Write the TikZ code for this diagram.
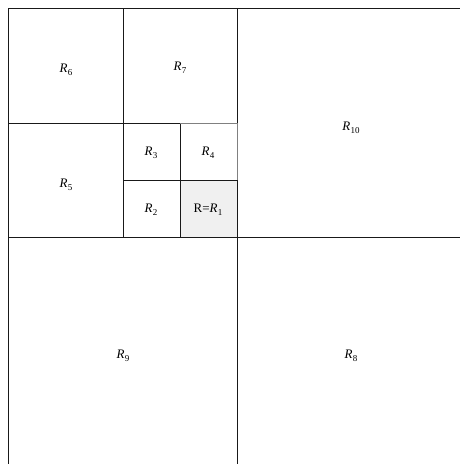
\documentclass[tikz,border=0pt]{standalone}
\usepackage{fontspec}
\setmainfont{Liberation Serif}
\definecolor{cellfill}{HTML}{F0F0F0}
\definecolor{softline}{HTML}{808080}
\newcommand{\Rlab}[1]{\textit{R}\kern0.3pt\raisebox{-0.25em}{\fontsize{9}{10}\selectfont #1}}
\begin{document}
\begin{tikzpicture}[x=1pt,y=-1pt,
  grid/.style={line width=0.9pt,black!90},
  soft/.style={line width=0.9pt,softline},
  lab/.style={font=\fontsize{13}{15}\selectfont,inner sep=0pt}]
\useasboundingbox (0,0) rectangle (460,464);
\fill[cellfill] (180,180) rectangle (237,237);
% main lines
\draw[grid] (8,8) -- (460,8);
\draw[grid] (8,8) -- (8,464);
\draw[grid] (8,237) -- (460,237);
\draw[grid] (237,8) -- (237,123);
\draw[grid] (237,180) -- (237,464);
\draw[grid] (8,123) -- (180,123);
\draw[grid] (123,8) -- (123,237);
\draw[grid] (123,180) -- (237,180);
\draw[grid] (180,123) -- (180,237);
\draw[soft] (180,123) -- (237,123) -- (237,180);
% labels
\node[lab] (r6) at (66,70) {\Rlab{6}};
\node[lab] (r7) at (180,68) {\Rlab{7}};
\node[lab] (r10) at (351,128) {\Rlab{10}};
\node[lab] (r5) at (66,185) {\Rlab{5}};
\node[lab] (r3) at (151,153) {\Rlab{3}};
\node[lab] (r4) at (208,153) {\Rlab{4}};
\node[lab] (r2) at (151,210) {\Rlab{2}};
\node[lab] (r1) at (208,210) {R=\Rlab{1}};
\node[lab] (r9) at (123,356) {\Rlab{9}};
\node[lab] (r8) at (351,356) {\Rlab{8}};
\end{tikzpicture}
\end{document}
